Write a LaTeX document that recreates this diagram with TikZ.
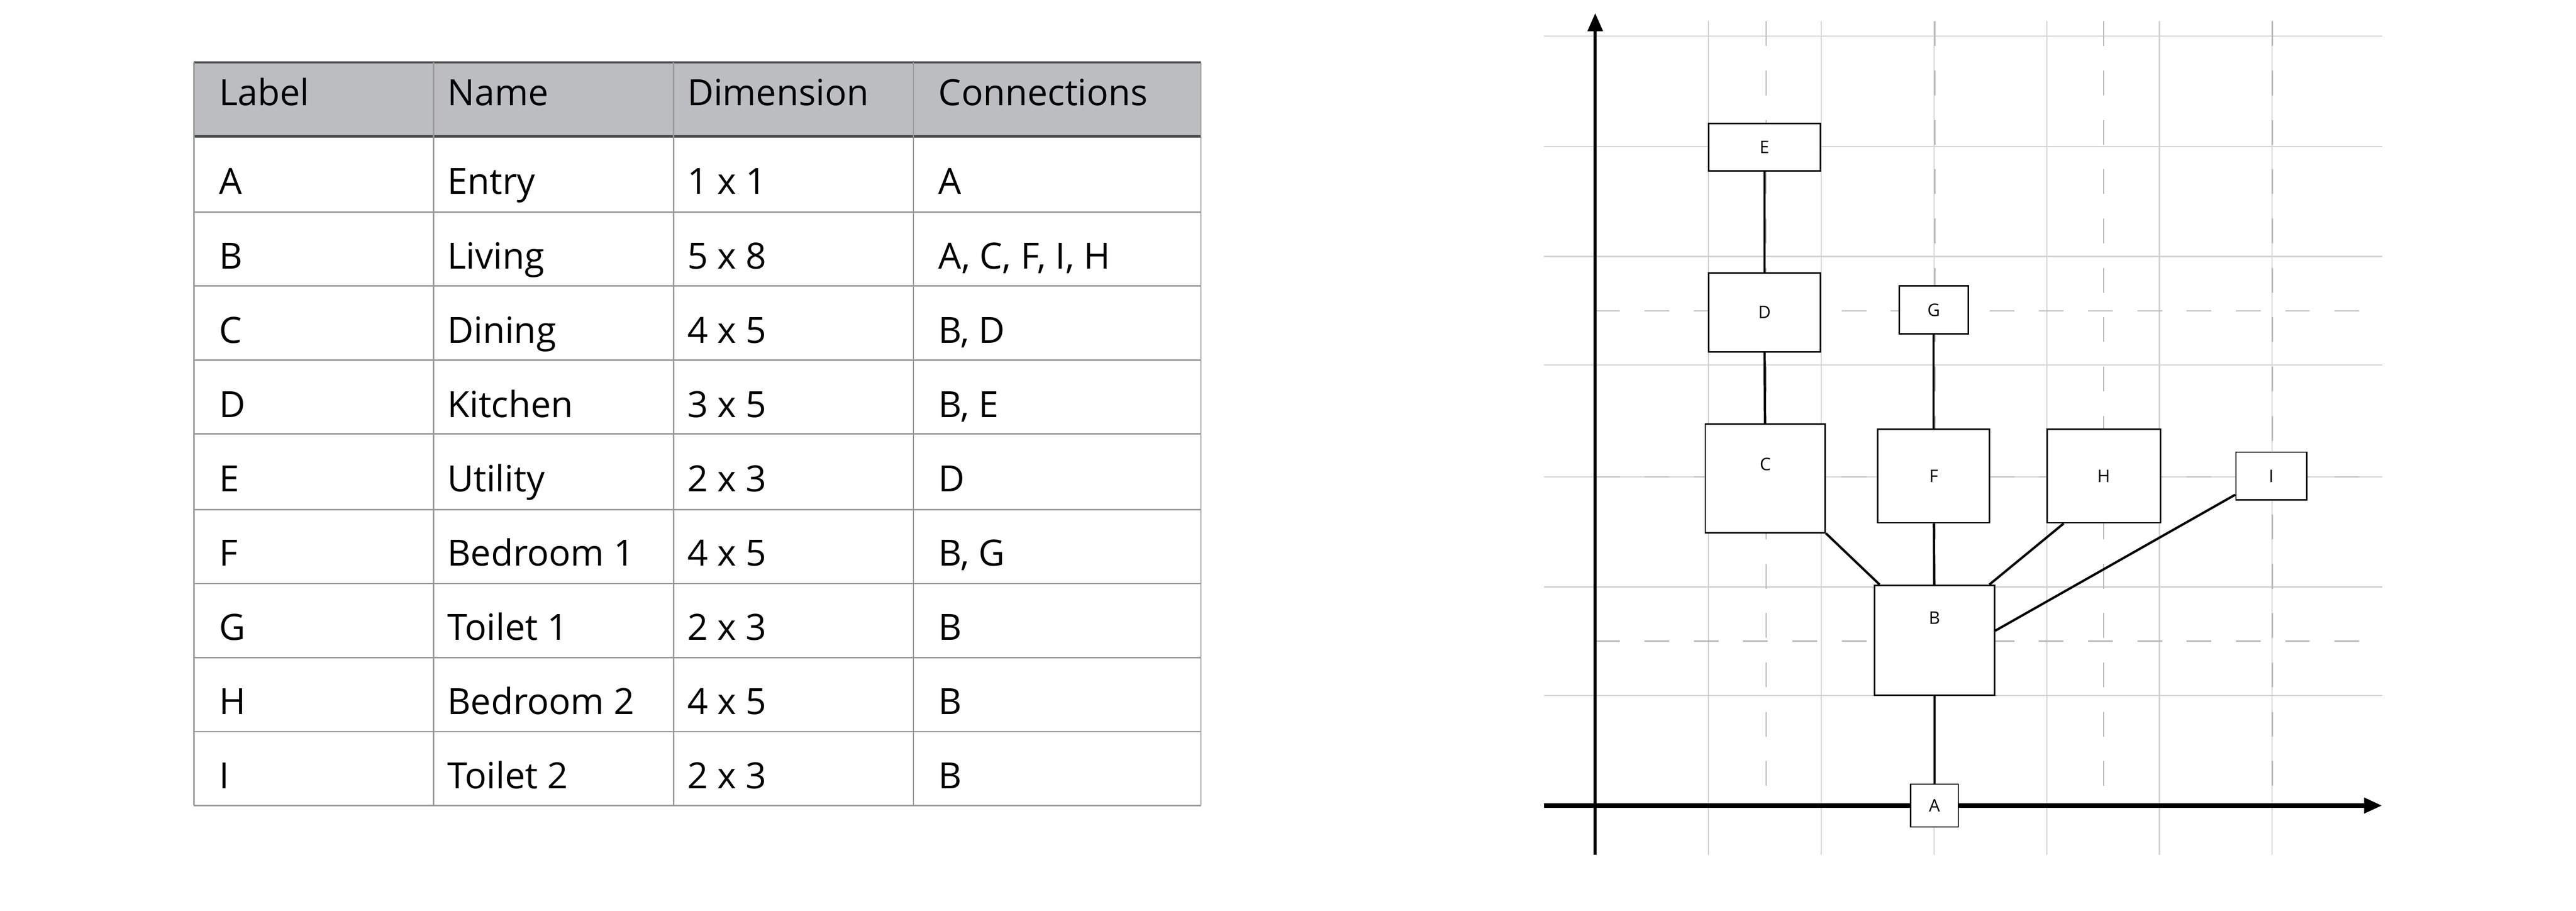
\documentclass[tikz,border=0pt]{standalone}
\usepackage{fontspec}
\setmainfont{Open Sans}
\usetikzlibrary{arrows.meta, positioning}
\definecolor{headgray}{HTML}{BCBDC0}
\definecolor{rulegray}{HTML}{9A9A9A}
\tikzset{
	room/.style = {rectangle, draw=black, line width=0.5pt, fill=white, inner sep=0pt, font=\fontsize{6}{7}\selectfont},
	link/.style = {line width=0.8pt},
	cell/.style = {anchor=base west, inner sep=0pt, font=\fontsize{12.5}{14}\selectfont},
	gridline/.style = {gray!35, line width=0.4pt},
	gridmark/.style = {gray!55, line width=0.4pt, dash pattern=on 3mm off 3mm},
	axis/.style = {line width=1.1pt, -{Triangle[length=2.2mm, width=1.8mm]}}
}
\begin{document}
\begin{tikzpicture}[x=0.2mm, y=-0.2mm]
\useasboundingbox (0,0) rectangle (1568,554);
% Table
\fill[headgray] (118,38) rectangle (731,83);
\foreach \y in {38,83} \draw[black!70, line width=0.8pt] (118,\y) -- (731,\y);
\foreach \y in {129,174,219,264,310,355,400,445,490} \draw[rulegray, line width=0.5pt] (118,\y) -- (731,\y);
\foreach \x in {118,264,410,556,731} \draw[rulegray, line width=0.5pt] (\x,38) -- (\x,490);
\node (hLabel) [cell] at (133,64) {Label};
\node (hName) [cell] at (272,64) {Name};
\node (hDim) [cell] at (418,64) {Dimension};
\node (hConn) [cell] at (571,64) {Connections};
\foreach \lab/\nam/\dimen/\con [count=\i] in {A/Entry/1 x 1/A, B/Living/5 x 8/{A, C, F, I, H}, C/Dining/4 x 5/{B, D}, D/Kitchen/3 x 5/{B, E}, E/Utility/2 x 3/D, F/Bedroom 1/4 x 5/{B, G}, G/Toilet 1/2 x 3/B, H/Bedroom 2/4 x 5/B, I/Toilet 2/2 x 3/B} {
	\node (lab\i) [cell] at (133,{73+45.2*\i}) {\lab};
	\node (nam\i) [cell] at (272,{73+45.2*\i}) {\nam};
	\node (dim\i) [cell] at (418,{73+45.2*\i}) {\dimen};
	\node (con\i) [cell] at (571,{73+45.2*\i}) {\con};
}

% Grid
\foreach \y in {22,89,156,222,290,357,423} \draw[gridline] (940,\y) -- (1450,\y);
\foreach \k in {0,...,5} \draw[gridline] ({1040+68.6*\k},13) -- ({1040+68.6*\k},520);
\foreach \k in {0,...,3} \draw[gridmark] ({1075+102.7*\k},13) -- ({1075+102.7*\k},490);
\foreach \y in {189,290,390} \draw[gridmark] (971,\y) -- (1450,\y);
\draw[axis] (971,520) -- (971,8);
\draw[axis, line width=1.5pt] (940,490) -- (1450,490);

% Rooms
\node (E) [room, minimum width=13.6mm, minimum height=5.8mm] at (1074,89.5) {E};
\node (D) [room, minimum width=13.6mm, minimum height=9.6mm] at (1074,190) {D};
\node (G) [room, minimum width=8.4mm, minimum height=5.8mm] at (1177,188.5) {G};
\node (C) [room, minimum width=14.6mm, minimum height=13.2mm, text depth=3.5mm] at (1074.5,291) {C};
\node (F) [room, minimum width=13.6mm, minimum height=11.4mm] at (1177,289.5) {F};
\node (H) [room, minimum width=13.8mm, minimum height=11.4mm] at (1280.5,289.5) {H};
\node (I) [room, minimum width=8.6mm, minimum height=5.8mm] at (1382.5,289.5) {I};
\node (B) [room, minimum width=14.6mm, minimum height=13.4mm, text depth=5.5mm] at (1177.5,389.5) {B};
\node (A) [room, minimum width=5.8mm, minimum height=5.2mm] at (1177.5,490) {A};

% Connections
\draw[link] (E) -- (D);
\draw[link] (D) -- (C);
\draw[link] (G) -- (F);
\draw[link] (F) -- (B);
\draw[link] (B) -- (A);
\draw[link] (C.south east) -- ([xshift=2] B.north west);
\draw[link] ([xshift=6] H.south west) -- ([xshift=-2] B.north east);
\draw[link] ([yshift=2] I.south west) -- ([yshift=-16] B.north east);
\end{tikzpicture}
\end{document}
